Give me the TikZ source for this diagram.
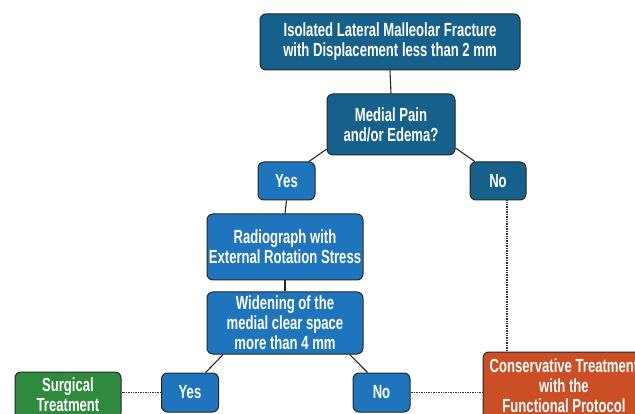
\documentclass[tikz,border=0pt]{standalone}
\usepackage{fontspec}
\setmainfont{Liberation Sans}[FakeStretch=0.69]
\definecolor{darkb}{RGB}{22,96,140}
\definecolor{lightb}{RGB}{30,117,190}
\definecolor{greenb}{RGB}{46,139,62}
\definecolor{orangeb}{RGB}{204,78,36}
\begin{document}
\begin{tikzpicture}[x=1pt,y=-1pt,
  box/.style={draw=black!85,line width=1pt,rounded corners=6pt,text=white,
    font=\fontsize{19}{20}\selectfont\bfseries,align=center,inner sep=0pt},
  link/.style={draw=black!85,line width=1.1pt},
  dot/.style={draw=black!80,line width=1.2pt,dash pattern=on 1pt off 0.7pt}]
\useasboundingbox (0,0) rectangle (635,414);
\clip (0,0) rectangle (635,414);
\fill[white] (0,0) rectangle (635,414);
\node[box,fill=darkb,minimum width=260,minimum height=56] (top) at (390,42) {Isolated Lateral Malleolar Fracture\\with Displacement less than 2 mm};
\node[box,fill=darkb,minimum width=128,minimum height=61] (med) at (391,124.5) {Medial Pain\\and/or Edema?};
\node[box,fill=lightb,minimum width=57,minimum height=38] (yes1) at (286.5,181) {Yes};
\node[box,fill=darkb,minimum width=56,minimum height=38] (no1) at (498,181) {No};
\node[box,fill=lightb,minimum width=156,minimum height=66] (rad) at (285,247) {Radiograph with\\External Rotation Stress};
\node[box,fill=lightb,minimum width=156,minimum height=62] (wid) at (285,323) {Widening of the\\medial clear space\\more than 4 mm};
\node[box,fill=lightb,minimum width=57,minimum height=39] (yes2) at (190,392.5) {Yes};
\node[box,fill=greenb,minimum width=106,minimum height=46] (surg) at (68,395) {Surgical\\Treatment};
\node[box,fill=lightb,minimum width=57,minimum height=39] (no2) at (381.5,392.5) {No};
\node[box,fill=orangeb,minimum width=162,minimum height=68] (cons) at (564,386) {Conservative Treatment\\with the\\Functional Protocol};
\draw[link] (top.south) -- (med.north);
\draw[link] (med.-159) -- (yes1.41);
\draw[link] (med.-20) -- (no1.140);
\draw[link] (yes1.south) -- (rad.north);
\draw[link] (rad.south) -- (wid.north);
\draw[link] (wid.207) -- (yes2.52);
\draw[link] (wid.-26) -- (no2.125);
\draw[dot] ([xshift=9]no1.south) -- ([xshift=9]no1.south |- cons.north);
\draw[dot] (yes2.west) -- (surg.east |- yes2.west);
\draw[dot] (no2.east) -- (cons.west |- no2.east);
\end{tikzpicture}
\end{document}
